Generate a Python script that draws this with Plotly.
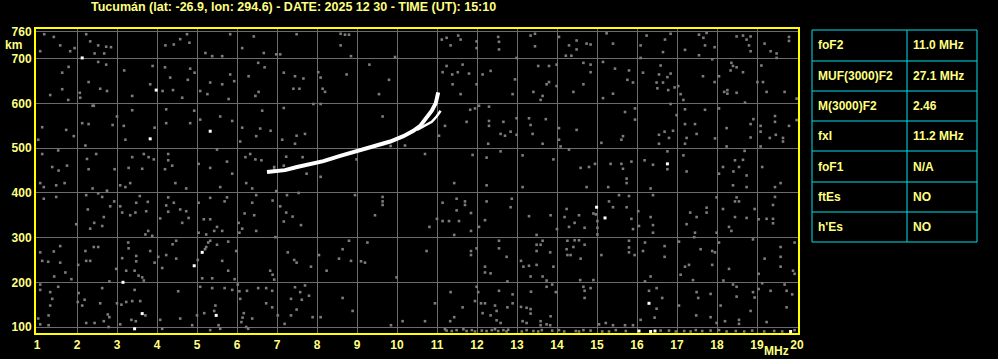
import plotly.graph_objects as go

# ---------------- data ----------------
title_text = "Tucumán (lat: -26.9, lon: 294.6) - DATE: 2025 12 30 - TIME (UT): 15:10"

freq_ticks = list(range(1, 21))
height_ticks = [100, 200, 300, 400, 500, 600, 700, 760]

# ordinary trace (F2 layer) and its upper branch
o_f = [6.75, 6.92, 7.2, 7.5, 7.83, 8.16, 8.58, 9.0, 9.41, 9.83, 10.16, 10.41, 10.58, 10.74, 10.87, 10.97, 11.03]
o_h = [447, 448, 451, 458, 464, 471, 483, 493, 504, 515, 527, 539, 550, 567, 584, 601, 625]
# extraordinary trace branch
x_f = [10.5, 10.7, 10.87, 10.99, 11.09]
x_h = [541, 550, 559, 571, 584]

# gray noise echoes (frequency MHz, virtual height km)
noise_pts = [
    (1.18, 755), (1.42, 749), (1.58, 730), (1.08, 717), (1.83, 717), (1.94, 724), (2.23, 755), (2.33, 739),
    (2.53, 730), (2.73, 727), (2.44, 712), (2.68, 712), (2.85, 726), (2.53, 693), (2.73, 687), (1.79, 682),
    (1.63, 669), (1.63, 632), (1.33, 619), (1.78, 608), (2.07, 624), (2.08, 613), (2.29, 648), (2.58, 633),
    (2.75, 628), (2.42, 595), (3.18, 674), (3.38, 617), (3.89, 684), (3.83, 643), (4.14, 628), (4.4, 630),
    (4.63, 613), (4.21, 730), (4.42, 732), (4.58, 744), (4.75, 755), (4.81, 736), (4.2, 681), (4.33, 658),
    (4.77, 653), (4.83, 678), (4.94, 669), (5.08, 628), (5.26, 621), (5.21, 713), (5.38, 706), (5.63, 706),
    (5.83, 755), (5.33, 647), (5.63, 643), (5.83, 665), (5.93, 650), (5.79, 610), (6.13, 724), (6.42, 750),
    (6.67, 713), (6.53, 691), (6.69, 681), (6.29, 661), (6.46, 617), (6.54, 626), (6.98, 710), (7.08, 710),
    (7.17, 669),
    (1.13, 547), (1.73, 541), (1.92, 527), (1.03, 519), (2.13, 556), (2.29, 554), (2.39, 595), (2.89, 552),
    (3.0, 571), (3.17, 550), (3.21, 519), (3.38, 585), (3.94, 546), (4.23, 587), (4.23, 556), (4.83, 556),
    (4.93, 584), (5.08, 564), (5.58, 571), (5.88, 561), (6.13, 546), (6.48, 527), (6.58, 544), (6.84, 539),
    (6.63, 584), (7.13, 519), (7.17, 590), (6.08, 515), (2.21, 506),
    (1.13, 487), (1.53, 495), (1.75, 461), (1.38, 458), (1.54, 450), (2.25, 476), (2.48, 487), (2.29, 453),
    (2.94, 453), (3.29, 456), (3.38, 480), (3.67, 487), (3.79, 480), (3.92, 475), (3.63, 454), (4.28, 487),
    (4.28, 473), (4.38, 461), (4.2, 453), (5.04, 465), (5.33, 456), (5.5, 497), (5.75, 470), (5.88, 443),
    (6.21, 480), (6.33, 487), (6.46, 475), (6.61, 473), (7.23, 481), (7.17, 461), (6.93, 458), (6.93, 452),
    (7.49, 755), (8.59, 756), (8.7, 754), (8.8, 754), (8.59, 730), (8.85, 706), (9.95, 704), (9.31, 687),
    (8.03, 670), (8.09, 658), (7.45, 661), (7.66, 656), (8.74, 665), (9.8, 653), (7.41, 633), (7.56, 633),
    (8.14, 633), (8.2, 626), (9.55, 621), (11.12, 743), (11.24, 747), (11.34, 730), (11.53, 752), (11.59, 743),
    (11.99, 739), (12.53, 749), (12.55, 738), (12.55, 721), (11.99, 724), (12.99, 702), (13.34, 752),
    (13.45, 756), (13.45, 728), (11.24, 684), (11.38, 665), (11.52, 670), (11.64, 687), (11.8, 667),
    (12.14, 665), (12.34, 673), (11.14, 670), (11.39, 643), (11.59, 621), (11.99, 643), (12.95, 654),
    (12.89, 621), (13.41, 626), (13.53, 684), (13.59, 608), (13.64, 617),
    (7.91, 599), (8.09, 599), (9.64, 571), (7.49, 528), (7.7, 532), (7.45, 510), (10.2, 506), (9.84, 505),
    (10.7, 487), (7.64, 480), (8.09, 436), (7.74, 443), (8.99, 475), (11.05, 528), (11.2, 550), (11.83, 586),
    (11.95, 589), (12.05, 595), (11.74, 559), (12.3, 593), (12.3, 561), (12.3, 550), (12.66, 559),
    (12.59, 532), (12.7, 528), (12.84, 537), (12.99, 567), (12.99, 530), (13.3, 567), (13.34, 552),
    (13.39, 532), (13.64, 510), (11.89, 485), (12.24, 479), (12.59, 493), (13.14, 484), (12.28, 510),
    (14.05, 749), (14.3, 730), (14.49, 741), (14.49, 721), (14.74, 734), (14.84, 732), (14.22, 707),
    (14.36, 707), (15.24, 757), (15.4, 734), (16.09, 730), (16.24, 752), (16.7, 743), (16.84, 756),
    (16.65, 715), (16.09, 702), (17.2, 720), (17.55, 754), (17.66, 747), (17.74, 758), (17.7, 730),
    (17.94, 726), (17.55, 708), (18.49, 750), (18.65, 752), (18.74, 743), (18.84, 750), (18.8, 730),
    (18.84, 717), (19.19, 734), (19.34, 717), (19.49, 712), (19.49, 702), (19.8, 749), (19.8, 740),
    (13.8, 684), (13.99, 687), (13.8, 648), (13.74, 643), (13.99, 639), (14.41, 626), (14.66, 691),
    (14.84, 687), (14.84, 670), (14.66, 643), (15.15, 693), (15.45, 678), (15.8, 674), (15.76, 653),
    (15.9, 647), (16.15, 669), (15.15, 612), (15.4, 622), (16.59, 685), (16.55, 665), (16.76, 659),
    (16.84, 667), (16.49, 647), (16.65, 647), (16.51, 634), (16.78, 630), (16.94, 636), (17.03, 639),
    (17.09, 621), (17.16, 608), (17.65, 661), (17.88, 699), (17.94, 648), (18.05, 661), (18.36, 691),
    (18.4, 684), (18.49, 681), (18.34, 674), (18.65, 670), (18.18, 626), (18.26, 630), (18.26, 622),
    (18.49, 624), (18.7, 602), (19.01, 648), (19.11, 685), (19.15, 648), (19.24, 626), (19.69, 626),
    (19.99, 611),
    (13.72, 565), (14.05, 545), (14.49, 541), (14.05, 519), (14.09, 504), (14.3, 497), (13.91, 475),
    (14.59, 456), (14.8, 458), (14.95, 465), (15.11, 512), (15.7, 581), (15.95, 589), (15.95, 564),
    (15.65, 527), (15.61, 519), (15.34, 465), (15.61, 465), (15.65, 454), (15.86, 470), (15.74, 432),
    (16.19, 473), (16.4, 463), (16.55, 530), (16.69, 537), (16.8, 523), (16.9, 539), (16.55, 510),
    (16.76, 493), (16.76, 453), (16.84, 599), (16.99, 574), (17.2, 587), (17.2, 554), (17.45, 554),
    (17.49, 532), (17.7, 586), (17.24, 523), (17.2, 510), (17.16, 484), (17.24, 448), (17.95, 522),
    (18.05, 589), (18.24, 545), (18.24, 504), (18.69, 494), (18.45, 473), (18.65, 474), (18.15, 458),
    (18.41, 448), (18.55, 458), (18.74, 439), (18.05, 443), (18.84, 554), (18.91, 565), (18.84, 524),
    (19.09, 550), (19.09, 537), (19.09, 504), (19.32, 523), (19.45, 572), (19.45, 559), (19.47, 530),
    (19.65, 523), (19.65, 515), (19.8, 550), (19.99, 563), (19.13, 458),
    (1.08, 422), (1.17, 413), (1.48, 417), (1.69, 422), (1.17, 387), (1.48, 391), (2.23, 395), (2.53, 399),
    (2.63, 391), (2.39, 410), (2.75, 405), (2.27, 363), (2.83, 370), (2.93, 381), (3.08, 370), (3.13, 356),
    (3.33, 350), (3.46, 356), (3.57, 393), (3.48, 378), (3.77, 380), (3.73, 359), (3.08, 417), (3.33, 422),
    (3.21, 413), (2.67, 346), (2.43, 333), (2.63, 326), (2.33, 320), (1.98, 330), (3.71, 307), (3.88, 304),
    (3.78, 315), (4.28, 390), (4.28, 358), (4.23, 372), (4.42, 378), (4.58, 363), (4.73, 359), (4.79, 344),
    (4.63, 333), (4.08, 343), (4.46, 422), (4.73, 410), (5.04, 378), (5.33, 389), (5.17, 341), (5.33, 341),
    (5.5, 324), (5.43, 315), (5.23, 307), (5.63, 315), (5.04, 311), (5.58, 413), (5.75, 390), (5.69, 381),
    (6.23, 422), (6.38, 410), (6.48, 395), (6.38, 378), (6.19, 354), (6.43, 350), (6.04, 333), (6.13, 320),
    (6.48, 315), (6.06, 311), (6.89, 383), (6.98, 404), (7.08, 370), (7.25, 395), (7.23, 356), (7.17, 336),
    (6.96, 301),
    (1.08, 267), (1.13, 248), (1.28, 246), (1.42, 269), (1.58, 281), (1.58, 244), (1.43, 213), (1.71, 222),
    (1.86, 207), (2.03, 239), (2.21, 270), (2.23, 248), (2.33, 248), (2.42, 279), (2.53, 279), (2.81, 202),
    (2.98, 230), (3.13, 254), (3.23, 226), (3.28, 289), (3.29, 276), (3.44, 226), (3.48, 247), (3.48, 259),
    (3.54, 215), (3.63, 211), (3.67, 204), (3.83, 270), (3.94, 244), (4.03, 257), (4.13, 232), (4.23, 261),
    (4.39, 285), (4.48, 293), (4.48, 253), (5.02, 250), (5.2, 274), (5.23, 279), (5.28, 289), (5.33, 293),
    (5.13, 209), (5.38, 209), (5.5, 284), (5.63, 248), (5.78, 226), (5.78, 291), (5.94, 207), (5.98, 270),
    (6.83, 226), (6.89, 217), (6.93, 206), (7.27, 267),
    (1.08, 195), (1.08, 183), (1.33, 178), (1.38, 163), (1.33, 148), (1.53, 190), (1.29, 126), (1.03, 119),
    (1.08, 106), (1.29, 104), (2.04, 176), (2.02, 156), (2.19, 161), (2.13, 148), (2.63, 187), (2.58, 153),
    (2.23, 109), (2.44, 109), (2.77, 128), (2.67, 113), (2.81, 122), (2.79, 100), (3.0, 153), (3.11, 150),
    (3.23, 156), (3.38, 158), (3.44, 183), (3.58, 158), (3.71, 126), (3.36, 116), (3.47, 113), (3.08, 106),
    (4.08, 116), (4.13, 96), (4.53, 180), (4.58, 119), (4.88, 104), (5.0, 126), (5.08, 190), (5.18, 131),
    (5.38, 187), (5.46, 148), (5.43, 136), (5.54, 104), (5.58, 96), (5.33, 93), (5.69, 187), (5.88, 183),
    (6.02, 195), (6.06, 180), (6.08, 163), (6.25, 181), (6.17, 131), (6.14, 121), (6.11, 111), (6.23, 100),
    (6.28, 96), (6.38, 119), (6.53, 187), (6.73, 187), (6.88, 181), (6.73, 153), (6.88, 144), (7.02, 126),
    (7.19, 107),
    (7.54, 400), (8.95, 395), (9.64, 391), (9.64, 381), (9.64, 373), (9.45, 350), (7.39, 347), (7.6, 328),
    (11.43, 422), (12.24, 417), (13.14, 413), (11.14, 378), (11.49, 387), (11.7, 381), (11.7, 373),
    (11.49, 361), (11.85, 355), (12.24, 381), (12.87, 387), (12.84, 368), (11.14, 337), (11.3, 337),
    (11.55, 337), (12.2, 339), (12.05, 324), (11.85, 315), (11.43, 306), (10.81, 324), (11.0, 342),
    (13.3, 348), (13.49, 306),
    (8.8, 293), (9.26, 289), (8.64, 274), (8.05, 261), (8.55, 253), (8.85, 248), (9.1, 247), (9.2, 244),
    (7.43, 250), (7.49, 244), (7.85, 235), (8.24, 226), (9.99, 211), (10.74, 270), (11.85, 270), (11.85, 261),
    (11.99, 276), (12.55, 293), (12.55, 276), (12.74, 257), (13.1, 248), (13.16, 235), (13.3, 237),
    (13.49, 239), (13.49, 284), (13.49, 270), (13.59, 284), (13.64, 293), (12.2, 235), (12.2, 222),
    (12.34, 220), (13.34, 213), (13.64, 213), (12.76, 202),
    (7.45, 189), (7.7, 193), (7.58, 178), (7.8, 170), (7.62, 161), (7.35, 163), (8.64, 165), (7.35, 126),
    (7.49, 139), (7.89, 122), (8.09, 122), (8.89, 136), (11.34, 178), (12.03, 178), (11.99, 190),
    (11.95, 158), (11.64, 144), (10.95, 153), (12.1, 153), (12.2, 153), (12.45, 148), (12.14, 131),
    (12.49, 136), (12.34, 126), (12.55, 181), (12.89, 173), (12.89, 153), (12.76, 144), (13.1, 145),
    (13.24, 143), (13.34, 140), (13.34, 130), (13.35, 179), (11.43, 122), (11.33, 113), (10.7, 113),
    (10.14, 113), (9.85, 104), (12.49, 115), (12.59, 109), (13.14, 113), (13.24, 109), (13.59, 113),
    (13.59, 104),
    (14.74, 413), (15.28, 413), (15.74, 422), (16.34, 410), (18.4, 417), (18.74, 413), (19.45, 413),
    (19.59, 422), (14.97, 352), (15.01, 337), (15.01, 322), (15.01, 307), (14.91, 354), (13.84, 350),
    (14.24, 364), (14.19, 346), (14.3, 324), (14.55, 350), (14.69, 322), (14.44, 333), (14.0, 319),
    (15.55, 395), (15.8, 393), (15.3, 381), (15.4, 368), (15.74, 368), (15.86, 342), (15.9, 319),
    (16.03, 359), (16.05, 326), (16.34, 346), (16.4, 328), (16.4, 311), (16.4, 395), (17.33, 356),
    (17.49, 346), (17.74, 367), (17.74, 356), (17.24, 330), (17.45, 311), (17.43, 301), (17.99, 390),
    (17.99, 311), (18.15, 364), (18.45, 381), (18.49, 390), (18.55, 381), (18.45, 346), (18.74, 344),
    (18.3, 324), (18.36, 315), (18.94, 364), (19.04, 341), (19.24, 342), (19.4, 373), (19.45, 391),
    (19.4, 342), (19.4, 332),
    (14.26, 293), (14.44, 294), (14.55, 294), (14.69, 284), (13.83, 267), (14.24, 274), (14.41, 279),
    (14.26, 261), (14.34, 261), (14.59, 253), (13.91, 235), (14.91, 205), (14.58, 205), (13.74, 204),
    (15.11, 261), (15.8, 293), (15.8, 278), (15.8, 267), (15.94, 261), (16.2, 289), (16.15, 270),
    (16.34, 213), (16.2, 202), (16.69, 281), (16.69, 257), (17.05, 291), (17.09, 217), (17.2, 235),
    (17.3, 239), (17.4, 205), (17.59, 274), (17.88, 270), (17.95, 267), (17.88, 239), (18.05, 289),
    (18.3, 230), (18.16, 204), (18.9, 296), (19.04, 219), (19.19, 253), (19.59, 279), (19.59, 257),
    (19.59, 235), (19.94, 289), (19.9, 226), (19.94, 219),
    (13.74, 190), (13.88, 195), (13.97, 178), (14.66, 190), (14.69, 181), (14.84, 187), (14.69, 165),
    (13.84, 124), (13.74, 106), (13.83, 104), (16.49, 187), (16.3, 181), (16.63, 165), (16.49, 141),
    (16.44, 121), (16.09, 116), (17.05, 148), (17.49, 178), (17.53, 165), (17.84, 174), (17.48, 126),
    (17.84, 122), (18.09, 148), (17.99, 109), (18.2, 113), (18.55, 116), (18.55, 107), (18.4, 195),
    (18.49, 190), (18.49, 168), (18.94, 166), (18.9, 178), (19.04, 185), (19.13, 198), (19.34, 181),
    (19.69, 195), (19.74, 181), (19.88, 173), (19.74, 144), (19.24, 111), (18.84, 136), (15.22, 109),
    (15.4, 104), (15.7, 104), (15.9, 104), (15.05, 106),
]

# dense low-height noise band above 11 MHz
band_f = [11.2, 11.24, 11.37, 11.49, 11.66, 11.74, 11.87, 11.95, 12.12, 12.24, 12.37, 12.45, 12.53, 12.66,
          12.74, 12.78, 13.12, 13.24, 13.41, 13.53, 13.62, 13.88, 14.05, 14.18, 14.47, 14.55, 14.66, 14.84,
          15.13, 15.3, 15.47, 15.72, 16.59, 16.8, 16.97, 17.18, 17.34, 17.47, 17.63, 17.84, 18.05, 18.24,
          18.47, 18.68, 18.88, 19.18, 19.43, 19.63, 19.94]
band_h = [95, 92, 91, 93, 95, 91, 93, 90, 92, 91, 93, 95, 91, 93,
          90, 94, 90, 93, 91, 90, 93, 92, 93, 90, 91, 90, 93, 92,
          90, 90, 93, 91, 92, 92, 90, 91, 90, 93, 91, 92, 93, 90,
          91, 90, 92, 90, 91, 90, 93]

# bright (white) isolated echoes
bright_f = [2.13, 3.98, 3.83, 5.33, 3.15, 3.63, 3.44, 4.93, 5.13, 5.48, 14.99, 15.2, 16.3, 16.76, 16.05, 16.34, 16.45, 19.84]
bright_h = [702, 630, 521, 538, 200, 130, 96, 237, 267, 126, 368, 344, 153, 465, 91, 90, 91, 90]

# parameter table
param_names = ["foF2", "MUF(3000)F2", "M(3000)F2", "fxI", "foF1", "ftEs", "h'Es"]
param_values = ["11.0 MHz", "27.1 MHz", "2.46", "11.2 MHz", "N/A", "NO", "NO"]

# ---------------- figure ----------------
W, H = 998, 359
YEL = "#ffff00"
TXT = "#ffff80"
GRID = "#6c6c6c"
CYAN = "#00e0e8"
FONT = "Liberation Sans"


def px_x(p):
    return p / W


def px_y(p):
    return (H - p) / H


noise_f = [p[0] for p in noise_pts]
noise_h = [p[1] for p in noise_pts]

dot = dict(symbol="square", size=2.6, color="#7c7c7c", line=dict(width=0))

fig = go.Figure()
fig.add_trace(go.Scatter(x=noise_f, y=noise_h, mode="markers", marker=dot, hoverinfo="skip"))
fig.add_trace(go.Scatter(x=band_f, y=band_h, mode="markers", marker=dot, hoverinfo="skip"))
fig.add_trace(go.Scatter(x=o_f, y=o_h, mode="lines", line=dict(color="#ffffff", width=4), hoverinfo="skip"))
fig.add_trace(go.Scatter(x=x_f, y=x_h, mode="lines", line=dict(color="#ffffff", width=2.5), hoverinfo="skip"))
fig.add_trace(go.Scatter(x=bright_f, y=bright_h, mode="markers",
                         marker=dict(symbol="square", size=3, color="#ffffff", line=dict(width=0)),
                         hoverinfo="skip"))

# table geometry (pixels)
tbl_left, tbl_mid, tbl_right = 812, 907, 977
row_edges = [30, 61, 91, 121, 151, 182, 212, 242]

shapes = [dict(type="rect", xref="paper", yref="paper",
               x0=px_x(tbl_left), x1=px_x(tbl_right), y0=px_y(row_edges[-1]), y1=px_y(row_edges[0]),
               line=dict(color=CYAN, width=1), fillcolor="black", layer="below")]
shapes.append(dict(type="line", xref="paper", yref="paper", x0=px_x(tbl_mid), x1=px_x(tbl_mid),
                   y0=px_y(row_edges[-1]), y1=px_y(row_edges[0]), line=dict(color=CYAN, width=1)))
for e in row_edges[1:-1]:
    shapes.append(dict(type="line", xref="paper", yref="paper", x0=px_x(tbl_left), x1=px_x(tbl_right),
                       y0=px_y(e), y1=px_y(e), line=dict(color=CYAN, width=1)))

tfont = dict(family=FONT, size=12, color=TXT, weight="bold")
annotations = [
    dict(text=title_text, xref="paper", yref="paper", x=px_x(90), y=px_y(7),
         xanchor="left", yanchor="middle", showarrow=False, borderpad=0,
         font=dict(family=FONT, size=12.5, color=TXT, weight="bold")),
    dict(text="km", xref="paper", yref="paper", x=px_x(13.5), y=px_y(45),
         xanchor="center", yanchor="middle", showarrow=False, borderpad=0, font=tfont),
    dict(text="MHz", xref="paper", yref="paper", x=px_x(790), y=px_y(351),
         xanchor="right", yanchor="middle", showarrow=False, borderpad=0, font=tfont),
]
for i, (nm, val) in enumerate(zip(param_names, param_values)):
    yc = (row_edges[i] + row_edges[i + 1]) / 2
    annotations.append(dict(text=nm, xref="paper", yref="paper", x=px_x(tbl_left + 5), y=px_y(yc),
                            xanchor="left", yanchor="middle", showarrow=False, borderpad=0, font=tfont))
    annotations.append(dict(text=val, xref="paper", yref="paper", x=px_x(tbl_mid + 5), y=px_y(yc),
                            xanchor="left", yanchor="middle", showarrow=False, borderpad=0, font=tfont))

x_lo = 1 - 1 / 40
x_hi = 20 + 1 / 40
y_lo = 86.6
y_hi = 766.7

fig.update_layout(
    width=W, height=H, autosize=False,
    margin=dict(l=0, r=0, t=0, b=0, pad=0),
    paper_bgcolor="black", plot_bgcolor="black",
    showlegend=False,
    font=tfont,
    xaxis=dict(domain=[px_x(36), px_x(798)], range=[x_lo, x_hi], tickvals=freq_ticks, automargin=False,
               ticktext=[str(v) for v in freq_ticks], showgrid=True, gridcolor=GRID, gridwidth=1,
               zeroline=False, showline=True, linecolor=YEL, linewidth=2, mirror=True,
               ticks="", tickfont=tfont),
    yaxis=dict(domain=[px_y(333), px_y(29)], range=[y_lo, y_hi], tickvals=height_ticks, automargin=False,
               ticktext=[str(v) for v in height_ticks], showgrid=True, gridcolor=GRID, gridwidth=1,
               zeroline=False, showline=True, linecolor=YEL, linewidth=2, mirror=True,
               ticks="", tickfont=tfont),
    shapes=shapes,
    annotations=annotations,
)

fig.write_html("out.html")
